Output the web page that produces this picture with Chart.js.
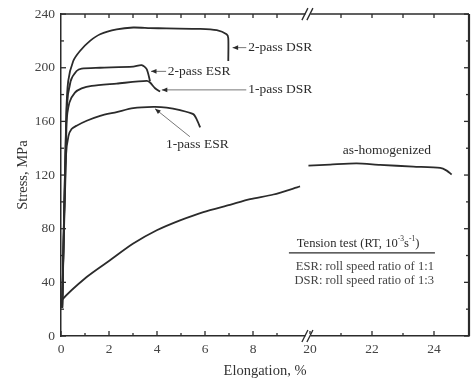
<!DOCTYPE html>
<html><head><meta charset="utf-8">
<script src="https://cdn.jsdelivr.net/npm/chart.js@4"></script>
<style>html,body{margin:0;padding:0;background:#fff}#wrap{width:471px;height:383px}</style>
</head><body><div id="wrap"><canvas id="c" width="471" height="383"></canvas></div>
<script>
// ---- data (elongation in %, stress in MPa) ----
const xTickLabels = [0, 2, 4, 6, 8, 20, 22, 24];
const xMinorTicks = [1, 3, 5, 7, 9, 21, 23];
const xTopTicks = [1, 2, 3, 4, 5, 6, 7, 8, 9, 21, 22, 23, 24];
const yTickLabels = [0, 40, 80, 120, 160, 200, 240];
const yMinorTicks = [20, 60, 100, 140, 180, 220];

const dsr2Elong  = [0.05, 0.22, 0.3, 0.51, 0.79, 1.21, 1.63, 2.32, 3.01, 3.71, 4.4, 5.8, 6.49, 6.9, 6.97, 6.97];
const dsr2Stress = [21, 165, 190, 205, 212.5, 220, 225, 228.6, 230, 229.6, 229.3, 229, 228, 225, 222, 205];

const esr2Elong  = [0.05, 0.24, 0.4, 0.65, 0.86, 1.63, 3.01, 3.36, 3.57, 3.71];
const esr2Stress = [21, 170, 190, 197.6, 199.4, 200, 200.8, 202, 199, 190];

const dsr1Elong  = [0.05, 0.23, 0.35, 0.58, 0.86, 1.28, 2.32, 3.57, 3.71, 3.92, 4.13];
const dsr1Stress = [21, 158, 174, 181.5, 184.6, 186.5, 188.2, 190.2, 189, 184.7, 182.2];

const esr1Elong  = [0.05, 0.21, 0.31, 0.44, 0.65, 1.07, 1.63, 2.32, 3.01, 3.85, 4.4, 4.96, 5.51, 5.65, 5.8];
const esr1Stress = [21, 135, 149, 154.3, 156.8, 160.5, 164.2, 167, 169.9, 170.8, 170.3, 168.4, 165.4, 161.7, 155.5];

const homoElongA  = [0.0, 0.03, 1.07, 2.04, 3.01, 3.99, 4.96, 5.93, 7.04, 7.88, 8.85, 9.96];
const homoStressA = [21.8, 26.7, 44, 56.5, 68.9, 78.8, 86.2, 92.4, 97.8, 102, 105.5, 111.5];
const homoElongB  = [19.95, 20.65, 21.5, 22.26, 23.33, 24.2, 24.41, 24.57];
const homoStressB = [127, 127.8, 128.7, 127.6, 126.3, 125.3, 123.3, 120.4];

// ---- broken axis mapping ----
const SEG1_END = 10.2;         // last elongation shown before the break
const SEG2_START = 10.375;     // axis position where 20 % sits
const SEG2_SCALE = 31 / 24;    // right segment is stretched
const AXIS_MAX = 17.0;
function toAxis(e) { return e <= 15 ? e : SEG2_START + (e - 20) * SEG2_SCALE; }
function fromAxis(u) { return u <= SEG1_END + 0.1 ? u : 20 + (u - SEG2_START) / SEG2_SCALE; }
function pts(xs, ys) { return xs.map((x, i) => ({ x: toAxis(x), y: ys[i] })); }

const INK = '#2b2b2b';
const SERIF = '"Liberation Serif", "DejaVu Serif", serif';

function mkSet(label, xs, ys) {
  return { label, data: pts(xs, ys), showLine: true, borderColor: INK, borderWidth: 1.8,
           pointRadius: 0, tension: 0.25, fill: false };
}

const annotations = [
  { text: '2-pass DSR', x: 7.8, y: 215, line: [[7.72, 215], [7.15, 215]], arrow: true },
  { text: '2-pass ESR', x: 4.45, y: 197, line: [[4.38, 197.3], [3.75, 197.3]], arrow: true },
  { text: '1-pass DSR', x: 7.8, y: 184, line: [[7.72, 183.5], [4.2, 183.5]], arrow: true },
  { text: '1-pass ESR', x: 4.38, y: 142.5, line: [[5.37, 148.6], [3.92, 169.4]], arrow: true },
  { text: 'as-homogenized', x: 22.48, y: 138, center: true }
];

const overlay = {
  id: 'overlay',
  afterDraw(chart) {
    const ctx = chart.ctx, xs = chart.scales.x, ys = chart.scales.y, a = chart.chartArea;
    const px = e => xs.getPixelForValue(toAxis(e));
    const py = s => ys.getPixelForValue(s);
    ctx.save();
    ctx.strokeStyle = INK; ctx.fillStyle = INK;
    // frame top / right
    ctx.lineWidth = 1.5;
    ctx.beginPath(); ctx.moveTo(a.left, a.top); ctx.lineTo(a.right, a.top); ctx.stroke();
    ctx.lineWidth = 2.2;
    ctx.beginPath(); ctx.moveTo(a.right, a.top); ctx.lineTo(a.right, a.bottom); ctx.stroke();
    // ticks
    ctx.lineWidth = 1.3;
    const tickX = (vals, len) => vals.forEach(v => {
      const x = px(v);
      ctx.beginPath(); ctx.moveTo(x, a.bottom); ctx.lineTo(x, a.bottom - len); ctx.stroke();
    });
    tickX(xTickLabels, 5); tickX(xMinorTicks, 3);
    xTopTicks.forEach(v => { const x = px(v); ctx.beginPath(); ctx.moveTo(x, a.top); ctx.lineTo(x, a.top + 4); ctx.stroke(); });
    const tickY = (vals, len) => vals.forEach(v => {
      const y = py(v);
      ctx.beginPath(); ctx.moveTo(a.left, y); ctx.lineTo(a.left + len, y); ctx.stroke();
      ctx.beginPath(); ctx.moveTo(a.right, y); ctx.lineTo(a.right - len, y); ctx.stroke();
    });
    tickY(yTickLabels, 5); tickY(yMinorTicks, 3);
    // axis break marks
    const bx = (px(SEG1_END) + xs.getPixelForValue(SEG2_START)) / 2;
    [a.top, a.bottom].forEach(yy => {
      ctx.fillStyle = '#fff'; ctx.fillRect(bx - 2.5, yy - 2, 5, 4);
      ctx.strokeStyle = INK; ctx.lineWidth = 1.3;
      [-3, 2].forEach(dx => { ctx.beginPath(); ctx.moveTo(bx + dx - 3, yy + 6); ctx.lineTo(bx + dx + 3, yy - 6); ctx.stroke(); });
    });
    // labels with arrows
    ctx.fillStyle = INK;
    ctx.font = '13.5px ' + SERIF; ctx.textBaseline = 'middle';
    annotations.forEach(an => {
      ctx.textAlign = an.center ? 'center' : 'left';
      ctx.fillText(an.text, px(an.x), py(an.y));
      if (an.line) {
        const [p0, p1] = an.line;
        const x0 = px(p0[0]), y0 = py(p0[1]), x1 = px(p1[0]), y1 = py(p1[1]);
        ctx.strokeStyle = '#777'; ctx.lineWidth = 1;
        ctx.beginPath(); ctx.moveTo(x0, y0); ctx.lineTo(x1, y1); ctx.stroke();
        const ang = Math.atan2(y1 - y0, x1 - x0);
        ctx.fillStyle = INK;
        ctx.beginPath(); ctx.moveTo(x1, y1);
        ctx.lineTo(x1 - 6 * Math.cos(ang - 0.4), y1 - 6 * Math.sin(ang - 0.4));
        ctx.lineTo(x1 - 6 * Math.cos(ang + 0.4), y1 - 6 * Math.sin(ang + 0.4));
        ctx.closePath(); ctx.fill();
      }
    });
    // tension test note
    const F = '12.6px ' + SERIF, FS = '7.5px ' + SERIF;
    ctx.font = F;
    const parts = [['Tension test (RT, 10', F, 0], ['-3', FS, -4], ['s', F, 0], ['-1', FS, -4], [')', F, 0]];
    let total = 0;
    parts.forEach(p => { ctx.font = p[1]; total += ctx.measureText(p[0]).width; });
    let sx = px(21.55) - total / 2;
    ctx.textAlign = 'left';
    parts.forEach(p => { ctx.font = p[1]; ctx.fillText(p[0], sx, py(69) + p[2]); sx += ctx.measureText(p[0]).width; });
    ctx.strokeStyle = INK; ctx.lineWidth = 1.3;
    ctx.beginPath(); ctx.moveTo(px(19.32), py(62)); ctx.lineTo(px(24.03), py(62)); ctx.stroke();
    ctx.textAlign = 'right'; ctx.fillStyle = '#444'; ctx.font = F;
    ctx.fillText('ESR: roll speed ratio of 1:1', px(24.0), py(51.5));
    ctx.fillText('DSR: roll speed ratio of 1:3', px(24.0), py(41));
    ctx.restore();
  }
};

new Chart(document.getElementById('c'), {
  type: 'scatter',
  data: { datasets: [
    mkSet('2-pass DSR', dsr2Elong, dsr2Stress),
    mkSet('2-pass ESR', esr2Elong, esr2Stress),
    mkSet('1-pass DSR', dsr1Elong, dsr1Stress),
    mkSet('1-pass ESR', esr1Elong, esr1Stress),
    mkSet('as-homogenized', homoElongA, homoStressA),
    mkSet('as-homogenized (cont.)', homoElongB, homoStressB)
  ]},
  options: {
    responsive: false, animation: false, devicePixelRatio: 1,
    layout: { padding: { top: 13, right: 2, left: 0, bottom: 0 } },
    plugins: { legend: { display: false }, tooltip: { enabled: false } },
    scales: {
      x: {
        type: 'linear', min: 0, max: AXIS_MAX,
        afterFit: s => { s.height = 47; },
        afterBuildTicks: s => { s.ticks = xTickLabels.map(v => ({ value: toAxis(v) })); },
        ticks: { callback: v => String(Math.round(fromAxis(v))), color: '#444', padding: 5,
                 font: { family: SERIF, size: 13.5 }, maxRotation: 0, autoSkip: false },
        grid: { display: false, drawTicks: false },
        border: { display: true, color: INK, width: 1.5 },
        title: { display: true, text: 'Elongation, %', color: '#333',
                 font: { family: SERIF, size: 14.5 }, padding: { top: 0, bottom: 3 } }
      },
      y: {
        type: 'linear', min: 0, max: 240,
        afterFit: s => { s.width = 61; },
        afterBuildTicks: s => { s.ticks = yTickLabels.map(v => ({ value: v })); },
        ticks: { color: '#444', padding: 6, font: { family: SERIF, size: 13.5 } },
        grid: { display: false, drawTicks: false },
        border: { display: true, color: INK, width: 1.5 },
        title: { display: true, text: 'Stress, MPa', color: '#333',
                 font: { family: SERIF, size: 14.5 }, padding: { top: 14, bottom: 0 } }
      }
    }
  },
  plugins: [overlay]
});
</script>
</body></html>
